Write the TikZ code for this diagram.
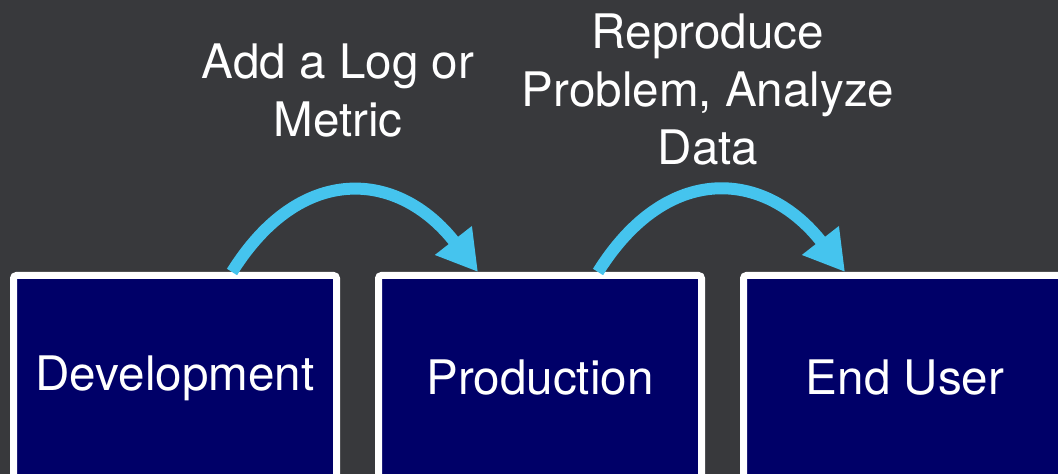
\documentclass[tikz,border=0pt]{standalone}
\usepackage{fontspec}
\setmainfont{TeX Gyre Heros}
\usepackage{xcolor}
\usepackage{tikz}
\usetikzlibrary{arrows.meta}
\definecolor{slate}{RGB}{56,57,60}
\definecolor{navybox}{RGB}{0,0,104}
\definecolor{skyarrow}{RGB}{69,196,238}

\begin{document}
\begin{tikzpicture}[
        x=0.5pt, y=0.5pt,
        stage/.style={draw=white, line width=3.5pt, fill=navybox, rounded corners=1.5pt,
            minimum width=161.5pt, minimum height=102.5pt, inner sep=0pt,
            text=white, font={\fontsize{23.8}{29}\selectfont}},
        caption/.style={text=white, align=center, font={\fontsize{23.8}{29}\selectfont}},
        hop/.style={skyarrow, line width=6pt, -{Triangle[width=22pt,length=20pt]}},
        ]
        % Background
        \fill[slate] (0, 0) rectangle (1058, 474);
        \useasboundingbox (0, 0) rectangle (1058, 474);
        \clip (0, 0) rectangle (1058, 474);

        % Stages
        \node[stage] (dev) at (175, 96) {Development};
        \node[stage] (prod) at (540, 96) {Production};
        \node[stage] (user) at (905, 96) {End User};

        % Hops
        \draw[hop] ([xshift=28.5pt]dev.north) to[out=58, in=128, looseness=1.35] ([xshift=-31pt]prod.north);
        \draw[hop] ([xshift=29pt]prod.north) to[out=58, in=128, looseness=1.35] ([xshift=-30pt]user.north);

        % Captions
        \node[caption] (addlog) at (338, 383) {Add a Log or\\Metric};
        \node[caption] (repro) at (708, 384) {Reproduce\\Problem, Analyze\\Data};
    \end{tikzpicture}
\end{document}
